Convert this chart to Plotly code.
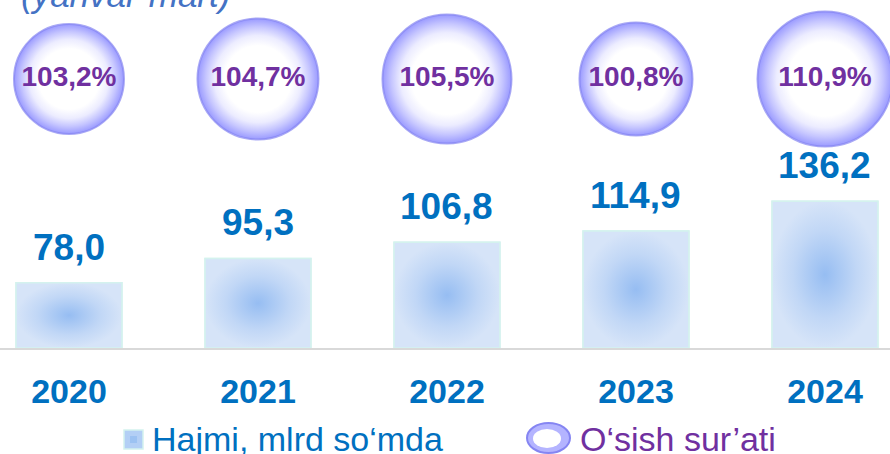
import math
import plotly.graph_objects as go

# ---------------- data ----------------
years = [2020, 2021, 2022, 2023, 2024]
volume = [78.0, 95.3, 106.8, 114.9, 136.2]          # Hajmi, mlrd so'mda
growth = [103.2, 104.7, 105.5, 100.8, 110.9]         # O'sish sur'ati, %
year_labels = [str(y) for y in years]
volume_labels = [f"{v:.1f}".replace(".", ",") for v in volume]
growth_labels = [f"{g:.1f}%".replace(".", ",") for g in growth]
subtitle = "(yanvar-mart)"
legend_names = ["Hajmi, mlrd so‘mda", "O‘sish sur’ati"]

# ---------------- styling ----------------
FONT = "Liberation Sans, Arial, sans-serif"
BLUE = "#0070c0"
PURPLE = "#7030a0"
BAR_W = 0.56
X_RANGE = [2019.635, 2024.344]
Y_MIN, Y_MAX = 31.3, 279.9
bubble_px = [110, 121, 129, 113, 135]
BUBBLE_LEVEL = 0.773
W, H = 890, 454
PLOT_H = 348  # plot area height in px (top margin 0)
PX_PER_X = W / (X_RANGE[1] - X_RANGE[0])
BUBBLE_SCALE = [[0, "#ffffff"], [0.55, "#ffffff"], [0.72, "#ececff"],
                [0.86, "#c6c6ff"], [1, "#9a9aff"]]

fig = go.Figure()

# bars (data)
fig.add_trace(go.Bar(
    x=years, y=volume, width=BAR_W, name=legend_names[0],
    marker=dict(color="#bfd5f6", line=dict(color="#d4f2ee", width=1.5)),
    hoverinfo="x+y",
))
# radial gradient overlay on each bar, derived from the bar values
for yr, v in zip(years, volume):
    fig.add_trace(go.Scatter(
        x=[yr - BAR_W / 2, yr + BAR_W / 2, yr + BAR_W / 2, yr - BAR_W / 2, yr - BAR_W / 2],
        y=[Y_MIN, Y_MIN, v, v, Y_MIN],
        mode="lines", fill="toself",
        fillgradient=dict(type="radial", colorscale=[[0, "#96bdf2"], [0.6, "#c1d7f6"], [1, "#d6e4f8"]]),
        line=dict(color="#d4f2ee", width=1.5),
        hoverinfo="skip", showlegend=False,
    ))

# bubble glow fill (radial gradient, white core, lavender rim)
lvl = [BUBBLE_LEVEL] * len(years)
for yr, d in zip(years, bubble_px):
    r = d / 2
    n = 90
    xs = [yr + r / PX_PER_X * math.cos(2 * math.pi * k / n) for k in range(n + 1)]
    ys = [BUBBLE_LEVEL + r / PLOT_H * math.sin(2 * math.pi * k / n) for k in range(n + 1)]
    fig.add_trace(go.Scatter(
        x=xs, y=ys, yaxis="y2", mode="lines", fill="toself",
        fillgradient=dict(type="radial", colorscale=BUBBLE_SCALE),
        line=dict(width=0, color="rgba(0,0,0,0)"),
        hoverinfo="skip", showlegend=False,
    ))
# bubbles (growth rate) - outline markers
fig.add_trace(go.Scatter(
    x=years, y=lvl, yaxis="y2", mode="markers+text", name=legend_names[1],
    text=growth_labels, textposition="middle center",
    textfont=dict(family=FONT, size=28, color=PURPLE, weight="bold"),
    marker=dict(size=bubble_px, color="rgba(0,0,0,0)", line=dict(color="#8585f2", width=2)),
    customdata=growth, hovertemplate="%{customdata}%<extra></extra>",
))

annotations = []
for yr, v, lab in zip(years, volume, volume_labels):
    annotations.append(dict(
        x=yr, y=v, text=lab, showarrow=False, yanchor="bottom", yshift=13,
        font=dict(family=FONT, size=37, color=BLUE, weight="bold"),
    ))
annotations.append(dict(
    xref="paper", yref="paper", x=19 / W, y=1, xanchor="left", yanchor="bottom",
    yshift=-16, text=subtitle, showarrow=False,
    font=dict(family=FONT, size=35, color="#4472c4", style="italic"),
))


# custom legend
def py(px):
    return (PLOT_H - px) / PLOT_H


leg_y = py(438.5)
annotations.append(dict(
    xref="paper", yref="paper", x=150 / W, y=leg_y, xanchor="left", yanchor="middle",
    text=legend_names[0], showarrow=False, font=dict(family=FONT, size=34, color=BLUE),
))
annotations.append(dict(
    xref="paper", yref="paper", x=578 / W, y=leg_y, xanchor="left", yanchor="middle",
    text=legend_names[1], showarrow=False, font=dict(family=FONT, size=34, color=PURPLE),
))
shapes = [
    dict(type="rect", xref="paper", yref="paper", x0=124 / W, x1=143 / W, y0=py(449), y1=py(430),
         fillcolor="#b3cff5", line=dict(color="#d4f2ee", width=1.5)),
    dict(type="rect", xref="paper", yref="paper", x0=130 / W, x1=137 / W, y0=py(443), y1=py(436),
         fillcolor="#9cc2f2", line=dict(width=0)),
    dict(type="circle", xref="paper", yref="paper", x0=527 / W, x1=570 / W, y0=py(453), y1=py(423),
         fillcolor="#b4b4ff", line=dict(color="#8585f2", width=2)),
    dict(type="circle", xref="paper", yref="paper", x0=533 / W, x1=561 / W, y0=py(448), y1=py(429),
         fillcolor="white", line=dict(width=0)),
]

fig.update_layout(
    width=W, height=H, margin=dict(l=0, r=0, t=0, b=H - PLOT_H, pad=0),
    paper_bgcolor="white", plot_bgcolor="white", showlegend=False,
    annotations=annotations, shapes=shapes,
    xaxis=dict(range=X_RANGE, tickvals=years, ticktext=year_labels,
               tickfont=dict(family=FONT, size=34, color=BLUE, weight="bold"),
               showline=True, linecolor="#d9d9d9", linewidth=2, showgrid=False,
               zeroline=False, ticks="", ticklabelstandoff=12, fixedrange=True),
    yaxis=dict(range=[Y_MIN, Y_MAX], visible=False, fixedrange=True),
    yaxis2=dict(range=[0, 1], overlaying="y", visible=False, fixedrange=True),
)

fig.write_html("out.html", config={"displayModeBar": False},
               post_script="document.body.style.margin='0px';")
